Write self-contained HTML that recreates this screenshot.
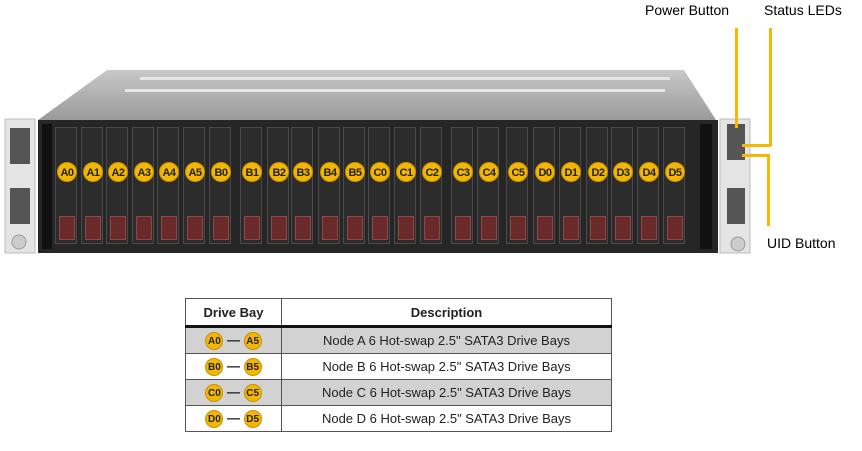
<!DOCTYPE html><html><head><style>
body{margin:0;width:862px;height:451px;background:#fff;position:relative;overflow:hidden;font-family:"Liberation Sans",sans-serif}
.a{position:absolute}
.c{position:absolute;width:20px;height:20px;border-radius:50%;background:#f2b705;border:1px solid #c99000;font:bold 11px "Liberation Sans",sans-serif;color:#222;text-align:center;line-height:20px;box-sizing:border-box;letter-spacing:-0.5px}
.bay{position:absolute;top:127px;width:22px;height:117px;background:#2c2c2c;border:1px solid #4a4a4a;box-sizing:border-box}
.bay i{position:absolute;left:3px;top:88px;width:14px;height:22px;background:#6a2a2a;border:1px solid #8a4a4a}
.y{position:absolute;background:#f5b800}
table{position:absolute;left:185px;top:298px;width:427px;border-collapse:collapse;font-size:13px;color:#222}
td,th{border:1px solid #555;height:25px;padding:0;text-align:center}
th{height:26px;border-bottom:3px solid #111}
.g td{background:#d2d2d2}
.s{display:inline-block;width:18px;height:18px;border-radius:50%;background:#f2b705;border:1px solid #c99000;font:bold 10px "Liberation Sans",sans-serif;line-height:18px;vertical-align:middle;box-sizing:border-box}
</style></head><body>
<svg class="a" style="left:0;top:0" width="862" height="260">
<defs><linearGradient id="lg" x1="0" y1="0" x2="0" y2="1"><stop offset="0" stop-color="#c8c8c8"/><stop offset="1" stop-color="#9a9a9a"/></linearGradient></defs>
<polygon points="107,70 684,70 716,120 38,120" fill="url(#lg)"/>
<rect x="140" y="77" width="530" height="3" fill="#e6e6e6"/><rect x="125" y="89" width="540" height="3" fill="#e6e6e6"/>
<rect x="38" y="120" width="680" height="133" fill="#262626"/>
<rect x="5" y="119" width="30" height="134" fill="#e4e4e4" stroke="#bbb"/>
<rect x="720" y="119" width="30" height="134" fill="#e4e4e4" stroke="#bbb"/>
<rect x="10" y="128" width="20" height="36" fill="#555"/><rect x="10" y="188" width="20" height="36" fill="#555"/>
<rect x="727" y="124" width="18" height="36" fill="#555"/><rect x="727" y="188" width="18" height="36" fill="#555"/>
<circle cx="19" cy="242" r="7" fill="#ccc" stroke="#999"/><circle cx="738" cy="244" r="7" fill="#ccc" stroke="#999"/>
<rect x="42" y="124" width="10" height="125" fill="#111"/><rect x="700" y="124" width="12" height="125" fill="#111"/>
</svg>
<div id="bays"></div>
<div class="y" style="left:735px;top:28px;width:3px;height:100px"></div>
<div class="y" style="left:769px;top:28px;width:3px;height:118px"></div>
<div class="y" style="left:742px;top:144px;width:29px;height:3px"></div>
<div class="y" style="left:742px;top:154px;width:28px;height:3px"></div>
<div class="y" style="left:767px;top:154px;width:3px;height:72px"></div>
<div class="a" style="left:645px;top:2px;font-size:14px">Power Button</div>
<div class="a" style="left:764px;top:2px;font-size:14px">Status LEDs</div>
<div class="a" style="left:767px;top:235px;font-size:14px">UID Button</div>
<table>
<tr><th style="width:95px">Drive Bay</th><th>Description</th></tr>
<tr class="g"><td><span class="s">A0</span> <b>—</b> <span class="s">A5</span></td><td>Node A 6 Hot-swap 2.5" SATA3 Drive Bays</td></tr>
<tr><td><span class="s">B0</span> <b>—</b> <span class="s">B5</span></td><td>Node B 6 Hot-swap 2.5" SATA3 Drive Bays</td></tr>
<tr class="g"><td><span class="s">C0</span> <b>—</b> <span class="s">C5</span></td><td>Node C 6 Hot-swap 2.5" SATA3 Drive Bays</td></tr>
<tr><td><span class="s">D0</span> <b>—</b> <span class="s">D5</span></td><td>Node D 6 Hot-swap 2.5" SATA3 Drive Bays</td></tr>
</table>
<script>
var L=["A0","A1","A2","A3","A4","A5","B0","B1","B2","B3","B4","B5","C0","C1","C2","C3","C4","C5","D0","D1","D2","D3","D4","D5"];
var X=[67,93,118,144,169,195,221,252,279,303,330,355,380,406,432,463,489,518,545,571,598,623,649,675];
var h="";for(var i=0;i<24;i++){h+='<div class="bay" style="left:'+(X[i]-12)+'px"><i></i></div><div class="c" style="left:'+(X[i]-10)+'px;top:162px">'+L[i]+'</div>';}
document.getElementById("bays").innerHTML=h;
</script>
</body></html>
